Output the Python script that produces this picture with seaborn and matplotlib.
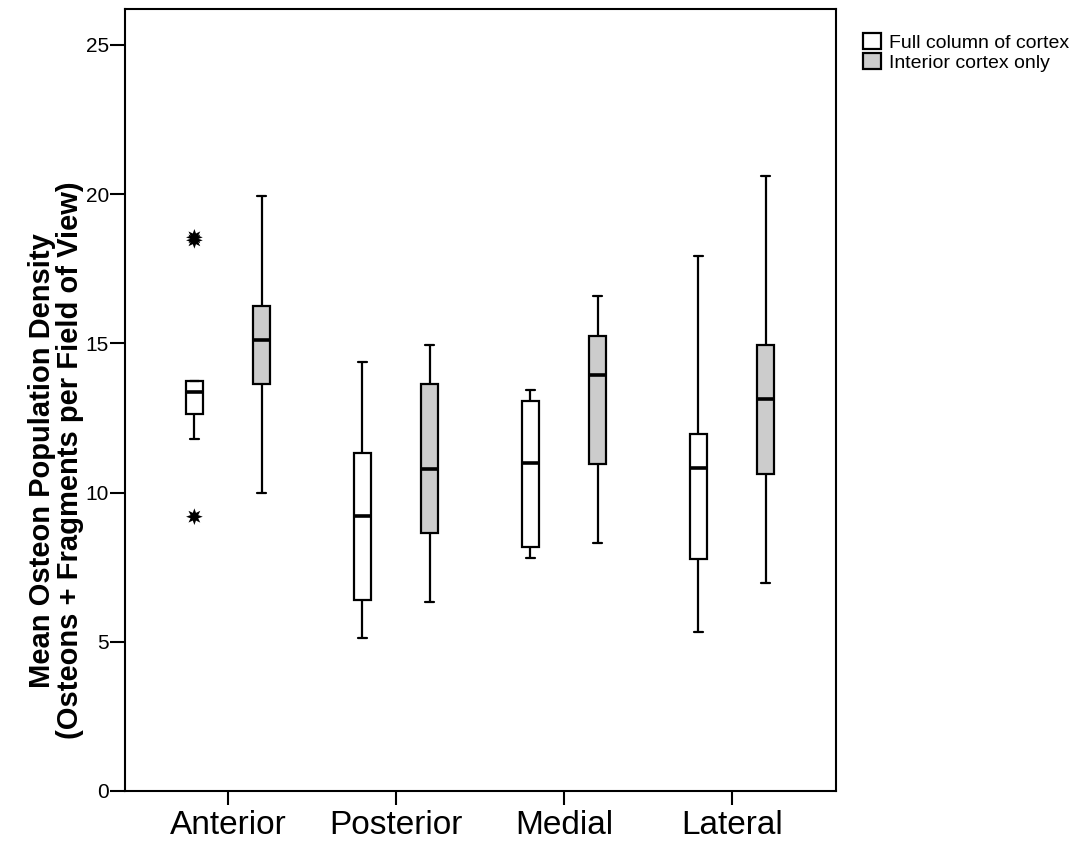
import numpy as np
import pandas as pd
import matplotlib
matplotlib.use("Agg")
import matplotlib.pyplot as plt
import seaborn as sns

# ---- data ----
regions = ["Anterior", "Posterior", "Medial", "Lateral"]
groups = ["Full column of cortex", "Interior cortex only"]

full_low = [11.80, 5.14, 7.79, 5.32]
full_q1 = [12.63, 6.40, 8.18, 7.77]
full_med = [13.36, 9.20, 11.00, 10.81]
full_q3 = [13.74, 11.34, 13.07, 11.95]
full_high = [13.74, 14.38, 13.45, 17.93]

int_low = [9.98, 6.32, 8.31, 6.98]
int_q1 = [13.63, 8.66, 10.97, 10.62]
int_med = [15.11, 10.80, 13.95, 13.13]
int_q3 = [16.26, 13.63, 15.26, 14.95]
int_high = [19.94, 14.95, 16.60, 20.59]

outlier_region = ["Anterior", "Anterior", "Anterior"]
outlier_group = ["Full column of cortex", "Full column of cortex", "Full column of cortex"]
outlier_value = [18.55, 18.45, 9.19]

y_ticks = [0, 5, 10, 15, 20, 25]
y_label = "Mean Osteon Population Density\n(Osteons + Fragments per Field of View)"

# ---- build long-form table from the summaries ----
rows = []
summaries = {
    groups[0]: (full_low, full_q1, full_med, full_q3, full_high),
    groups[1]: (int_low, int_q1, int_med, int_q3, int_high),
}
for g, stats in summaries.items():
    for i, r in enumerate(regions):
        for s in stats:
            rows.append({"Region": r, "Group": g, "Value": s[i]})
df = pd.DataFrame(rows)
out_df = pd.DataFrame({"Region": outlier_region, "Group": outlier_group, "Value": outlier_value})

sns.set_theme(style="ticks")
plt.rcParams["font.family"] = ["Liberation Sans", "DejaVu Sans"]
plt.rcParams["text.color"] = "black"
plt.rcParams["axes.labelcolor"] = "black"
plt.rcParams["xtick.color"] = "black"
plt.rcParams["ytick.color"] = "black"

fig = plt.figure(figsize=(10.76, 8.43), dpi=100)
ax = fig.add_axes([125 / 1076, 52 / 843, 711 / 1076, 782 / 843])

palette = {groups[0]: "white", groups[1]: "#cccccc"}
sns.boxplot(
    data=df, x="Region", y="Value", hue="Group", order=regions, hue_order=groups,
    palette=palette, saturation=1, width=0.8, gap=0.75, whis=(0, 100),
    showfliers=False, linecolor="black", linewidth=1.6,
    medianprops={"linewidth": 2.6, "color": "black"},
    ax=ax,
)
sns.stripplot(
    data=out_df, x="Region", y="Value", hue="Group", order=regions, hue_order=groups,
    dodge=True, jitter=False, palette={groups[0]: "black", groups[1]: "black"},
    marker=(8, 1, 0), size=12, linewidth=0, legend=False, ax=ax,
)

ax.set_xlim(-0.613, 3.619)
ax.set_ylim(0, 26.2)
ax.set_yticks(y_ticks)
ax.set_yticklabels([str(t) for t in y_ticks])
ax.set_xlabel("")
ax.set_ylabel(y_label, fontsize=21, fontweight="bold", linespacing=0.97, color="black")
ax.yaxis.set_label_coords(-0.058, 0.423)

for side in ["left", "right", "top", "bottom"]:
    ax.spines[side].set_visible(True)
    ax.spines[side].set_color("black")
    ax.spines[side].set_linewidth(1.5)

ax.tick_params(axis="y", labelsize=15, length=10.5, width=1.5, pad=1, colors="black")
ax.tick_params(axis="x", labelsize=24, length=10, width=1.5, pad=4, colors="black")

sns.move_legend(
    ax, "upper left", bbox_to_anchor=(1.038, 0.969), frameon=False, title=None,
    fontsize=14, handlelength=0.9, handleheight=0.9, handletextpad=0.45,
    labelspacing=0.05, borderpad=0, borderaxespad=0,
)
for t in ax.get_legend().get_texts():
    t.set_color("black")

fig.savefig("out.png", dpi=100, facecolor="white")
